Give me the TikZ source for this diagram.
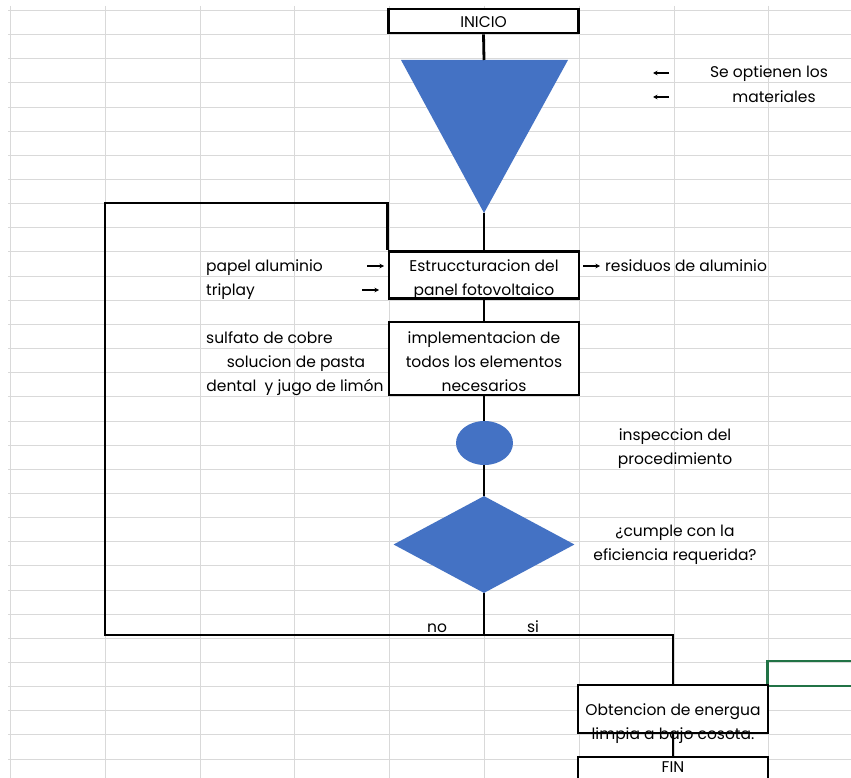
\documentclass[tikz,border=0pt]{standalone}
\usepackage{fontspec}
\setmainfont{Poppins}
\usetikzlibrary{shapes.geometric,arrows.meta}
\definecolor{officeblue}{HTML}{4472C4}
\definecolor{gridgray}{HTML}{D9D9D9}
\definecolor{selgreen}{HTML}{217346}
\begin{document}
\begin{tikzpicture}[x=1pt,y=-1pt,
  font=\fontsize{15.5}{24}\selectfont,
  box/.style={draw, line width=2.8pt, fill=white, minimum width=190pt, inner sep=0pt},
  conn/.style={line width=2.8pt},
  smallarr/.style={-{Stealth[length=4.5pt,width=4.5pt]}, line width=1.4pt},
  lbl/.style={inner sep=0pt, align=center, anchor=mid, yshift=-2.5pt}]
\useasboundingbox (0,0) rectangle (851,778);
\clip (0,0) rectangle (851,778);
\fill[white] (0,0) rectangle (851,778);
% spreadsheet grid
\foreach \i in {0,...,8} {
  \pgfmathsetmacro{\gx}{round(10+94.8*\i)+0.5}
  \draw[gridgray, line width=1.5pt] (\gx,6) -- (\gx,778);
}
\foreach \k in {0,...,31} {
  \pgfmathsetmacro{\gy}{round(10+24.15*\k)+0.5}
  \draw[gridgray, line width=1.5pt] (8,\gy) -- (851,\gy);
}
% selection rectangle
\draw[selgreen, line width=2.4pt] (860,661) -- (767.5,661) -- (767.5,686) -- (860,686);
% nodes
\node[box, minimum height=24pt] (inicio) at (483.5,21) {};
\coordinate (tl) at (401,60);
\coordinate (tr) at (568,60);
\coordinate (tb) at (484,213);
\coordinate (ttop) at (484,60);
\fill[officeblue] (tl) -- (tr) -- (tb) -- cycle;
\node[box, minimum height=47pt] (estr) at (484,275) {};
\node[box, minimum height=73pt] (impl) at (484,358.5) {};
\node[ellipse, fill=officeblue, minimum width=57pt, minimum height=44pt, inner sep=0pt] (insp) at (484.5,443) {};
\node[diamond, fill=officeblue, minimum width=181pt, minimum height=97pt, inner sep=0pt] (dec) at (484,544.5) {};
\coordinate (join) at (484,635);
\coordinate (loopbl) at (105,635);
\coordinate (looptl) at (105,203);
\node[box, minimum height=48pt] (obt) at (673,709) {};
\node[box, minimum height=26pt] (fin) at (673,770) {};
% connectors
\draw[conn] (inicio.south) -- (ttop);
\draw[conn] (tb) -- (estr.north);
\draw[conn] (estr.south) -- (impl.north);
\draw[conn] (impl.south) -- (impl.south |- insp.north);
\draw[conn] (insp.south -| dec.north) -- (dec.north);
\draw[conn] (dec.south) -- (join);
\draw[conn] (join) -| (obt.north);
\draw[conn, line join=miter] (join) -- (loopbl) -- (looptl) -| (estr.north west);
\draw[conn] (obt.south) -- (fin.north);
% box texts
\node[lbl] (inicioT) at (483.5,22) {INICIO};
\node[lbl] (estrT1) at (484,266) {Estruccturacion del};
\node[lbl] (estrT2) at (484,290) {panel fotovoltaico};
\node[lbl] (implT1) at (484,338) {implementacion de};
\node[lbl] (implT2) at (484,362) {todos los elementos};
\node[lbl] (implT3) at (484,386) {necesarios};
\node[lbl] (obtT1) at (673,710) {Obtencion de energua};
\node[lbl] (obtT2) at (673,734) {limpia a bajo cosota.};
\node[lbl] (finT) at (673,767) {FIN};
% labels
\node[lbl] (t1) at (769,72) {Se optienen los};
\node[lbl] (t2) at (774,97) {materiales};
\coordinate (a1s) at (669,73); \coordinate (a1e) at (653,73);
\coordinate (a2s) at (669,97); \coordinate (a2e) at (653,97);
\draw[smallarr] (a1s) -- (a1e);
\draw[smallarr] (a2s) -- (a2e);
\node[lbl, anchor=mid west] (pa) at (206,266) {papel aluminio};
\node[lbl, anchor=mid west] (tp) at (206,290) {triplay};
\coordinate (a3s) at (367,266); \coordinate (a3e) at (384,266);
\coordinate (a4s) at (362,290); \coordinate (a4e) at (379,290);
\draw[smallarr] (a3s) -- (a3e);
\draw[smallarr] (a4s) -- (a4e);
\coordinate (a5s) at (583,266); \coordinate (a5e) at (600,266);
\draw[smallarr] (a5s) -- (a5e);
\node[lbl, anchor=mid west] (res) at (605,266) {residuos de aluminio};
\node[lbl, anchor=mid west] (sc) at (206,338) {sulfato de cobre};
\node[lbl] (sp) at (296,362) {solucion de pasta};
\node[lbl] (dj) at (295,386) {dental\ \ y jugo de limón};
\node[lbl] (i1) at (675,435) {inspeccion del};
\node[lbl] (i2) at (675,459) {procedimiento};
\node[lbl] (c1) at (675,531) {¿cumple con la};
\node[lbl] (c2) at (675,555) {eficiencia requerida?};
\node[lbl] (no) at (437,627) {no};
\node[lbl] (si) at (533,627) {si};
\end{tikzpicture}
\end{document}
